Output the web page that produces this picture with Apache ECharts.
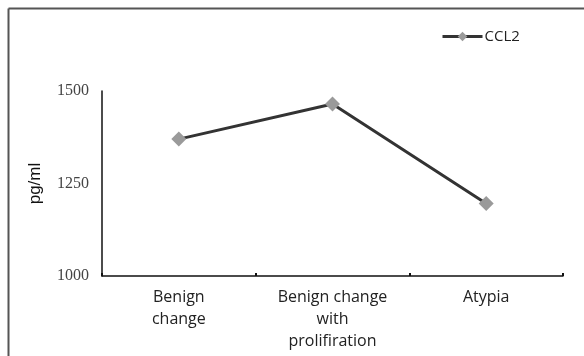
<!DOCTYPE html>
<html><head><meta charset="utf-8">
<script src="https://cdn.jsdelivr.net/npm/echarts@6/dist/echarts.min.js"></script>
<style>html,body{margin:0;padding:0;background:#fff}#c{width:584px;height:356px}</style>
</head><body><div id="c"></div>
<script>
const categories = ['Benign\nchange', 'Benign change\nwith\nprolifiration', 'Atypia'];
const ccl2 = [1370, 1465, 1196];
const yTicks = [1000, 1250, 1500];

const chart = echarts.init(document.getElementById('c'), null, {renderer: 'canvas'});
chart.setOption({
  backgroundColor: '#fff',
  animation: false,
  graphic: [
    {type: 'line', shape: {x1: 8.5, y1: 8.5, x2: 584, y2: 8.5}, style: {stroke: '#555', lineWidth: 2}},
    {type: 'line', shape: {x1: 8.5, y1: 8.5, x2: 8.5, y2: 356}, style: {stroke: '#555', lineWidth: 2}}
  ],
  legend: {
    data: [{name: 'CCL2'}],
    left: 436, top: 24,
    itemWidth: 40, itemHeight: 12, itemGap: 2,
    lineStyle: {width: 3, color: '#333'},
    textStyle: {fontFamily: 'Open Sans', fontSize: 15, color: '#222', padding: [0, 0, 0, -3]}
  },
  grid: {left: 102, right: 21, top: 91, bottom: 80, containLabel: false},
  xAxis: {
    type: 'category',
    data: categories,
    boundaryGap: true,
    axisLine: {lineStyle: {color: '#111', width: 1.5}},
    axisTick: {show: true, inside: true, length: 3, lineStyle: {color: '#111', width: 2}},
    axisLabel: {fontFamily: 'Open Sans', fontSize: 16, color: '#222', lineHeight: 22, margin: 10, interval: 0}
  },
  yAxis: {
    type: 'value',
    min: 1000, max: 1500, interval: 250,
    name: 'pg/ml', nameLocation: 'middle', nameGap: 58, nameRotate: 90,
    nameTextStyle: {fontFamily: 'Liberation Sans', fontSize: 17, color: '#111'},
    axisLine: {show: true, lineStyle: {color: '#111', width: 1.5}},
    axisTick: {show: false},
    splitLine: {show: false},
    axisLabel: {fontFamily: 'Liberation Serif', fontSize: 16, color: '#444', margin: 13,
      formatter: v => yTicks.includes(v) ? String(v) : ''}
  },
  series: [{
    name: 'CCL2', type: 'line', data: ccl2,
    symbol: 'diamond', symbolSize: 15,
    itemStyle: {color: '#9a9a9a'},
    lineStyle: {color: '#333', width: 3}
  }]
});
</script></body></html>
